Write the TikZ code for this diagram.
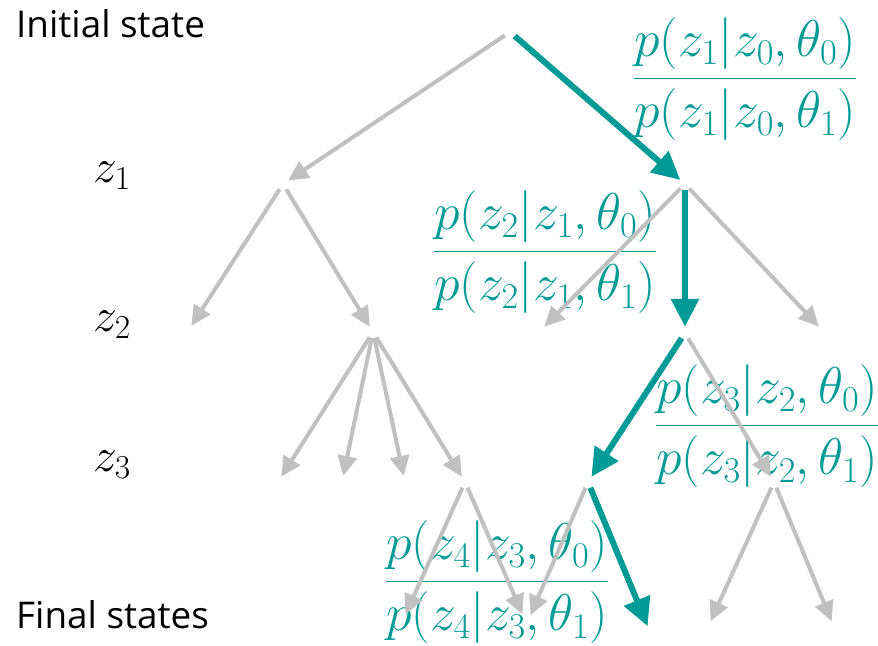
\RequirePackage{fix-cm}
\documentclass[tikz,border=0pt]{standalone}
\usepackage{amsmath}
\usepackage{fontspec}
\setsansfont{Open Sans}
\usetikzlibrary{arrows.meta}
\definecolor{pathteal}{RGB}{0,155,150}
\definecolor{treegray}{RGB}{192,192,192}

\begin{document}
\begin{tikzpicture}[x=1bp, y=-1bp,
    state/.style={circle, inner sep=0pt, minimum size=12bp},
    branch/.style={treegray, line width=4bp, -{Triangle[length=20bp, width=19bp]}},
    chosen/.style={pathteal, line width=6bp, -{Triangle[length=28bp, width=27bp]}},
    level/.style={font=\fontsize{48}{54}\selectfont},
    caption/.style={font=\sffamily\fontsize{37}{44}\selectfont, anchor=west, inner sep=0pt},
    ratio/.style={pathteal, inner sep=0pt, font=\fontsize{52}{60}\selectfont}]
    \useasboundingbox (0,0) rectangle (878,646);
    \node[caption] (init) at (16,24) {Initial state};
    \node[caption] (final) at (16,615) {Final states};
    \node[level] (l1) at (112,176) {$z_1$};
    \node[level] (l2) at (112,325) {$z_2$};
    \node[level] (l3) at (112,465) {$z_3$};
    \node[ratio] (f1) at (745,79) {$\dfrac{p(z_1|z_0,\theta_0)}{p(z_1|z_0,\theta_1)}$};
    \node[ratio] (f2) at (545,252) {$\dfrac{p(z_2|z_1,\theta_0)}{p(z_2|z_1,\theta_1)}$};
    \node[ratio] (f3) at (767,426) {$\dfrac{p(z_3|z_2,\theta_0)}{p(z_3|z_2,\theta_1)}$};
    \node[ratio] (f4) at (497,582) {$\dfrac{p(z_4|z_3,\theta_0)}{p(z_4|z_3,\theta_1)}$};
    \node[state] (r) at (510,32) {};
    \node[state] (a) at (283,184) {};
    \node[state] (b) at (685,184) {};
    \node[state] (aa) at (188,331) {};
    \node[state] (ab) at (373,332) {};
    \node[state] (ba) at (540,331) {};
    \node[state] (bb) at (685,333) {};
    \node[state] (bc) at (823,331) {};
    \node[state] (aba) at (278,482) {};
    \node[state] (abb) at (342,482) {};
    \node[state] (abc) at (405,482) {};
    \node[state] (abd) at (465,482) {};
    \node[state] (bba) at (588,482) {};
    \node[state] (bbb) at (774,482) {};
    \node[state] (abda) at (403,620) {};
    \node[state] (abdb) at (525,620) {};
    \node[state] (bbaa) at (528,621) {};
    \node[state] (bbab) at (650,632) {};
    \node[state] (bbba) at (708,627) {};
    \node[state] (bbbb) at (834,627) {};
    \draw[branch] (r) -- (a);
    \draw[branch] (a) -- (aa);
    \draw[branch] (a) -- (ab);
    \draw[branch] (b) -- (ba);
    \draw[branch] (b) -- (bc);
    \draw[branch] (ab) -- (aba);
    \draw[branch] (ab) -- (abb);
    \draw[branch] (ab) -- (abc);
    \draw[branch] (ab) -- (abd);
    \draw[branch] (bb) -- (bbb);
    \draw[branch] (abd) -- (abda);
    \draw[branch] (abd) -- (abdb);
    \draw[branch] (bba) -- (bbaa);
    \draw[branch] (bbb) -- (bbba);
    \draw[branch] (bbb) -- (bbbb);
    \draw[chosen] (r) -- (b);
    \draw[chosen] (b) -- (bb);
    \draw[chosen] (bb) -- (bba);
    \draw[chosen] (bba) -- (bbab);
\end{tikzpicture}
\end{document}
